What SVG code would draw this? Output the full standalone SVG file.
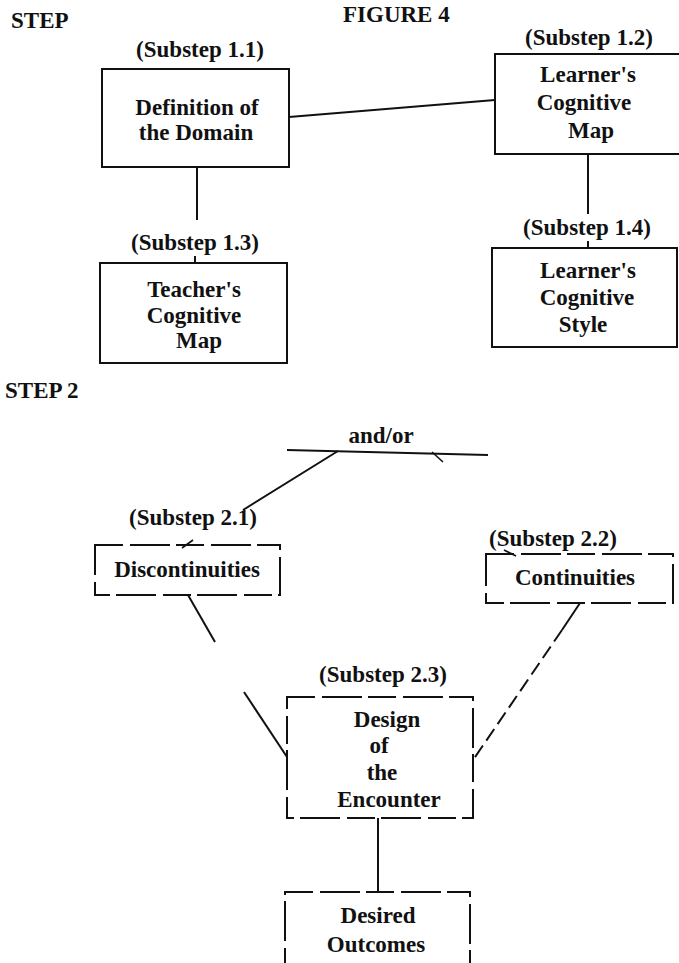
<svg xmlns="http://www.w3.org/2000/svg" width="679" height="963" viewBox="0 0 679 963">
  <style>
    text { font-family: "Liberation Serif", "Times New Roman", serif; font-size: 23px; font-weight: bold; fill: #111; }
    .c { text-anchor: middle; }
    .box { fill: none; stroke: #111; stroke-width: 2; }
    .broken { stroke-dasharray: 28 7 40 6; }
    .ln { fill: none; stroke: #111; stroke-width: 2; }
    .dash { stroke-dasharray: 14 6; }
    .tick { fill: none; stroke: #111; stroke-width: 1.6; }
  </style>
  <rect width="679" height="963" fill="#fff"/>

  <!-- headings -->
  <text x="343" y="22">FIGURE 4</text>
  <text x="11" y="28">STEP</text>
  <text x="5" y="398">STEP 2</text>

  <!-- connectors -->
  <g id="connectors">
    <line class="ln" x1="289" y1="117" x2="495" y2="100"/>
    <line class="ln" x1="197" y1="167" x2="197" y2="220"/>
    <line class="ln" x1="195" y1="256" x2="195" y2="263"/>
    <line class="ln" x1="588" y1="155" x2="588" y2="214"/>
    <line class="ln" x1="588" y1="241" x2="588" y2="248"/>
    <!-- and/or bar with its branches -->
    <line class="ln" x1="287" y1="450" x2="488" y2="455"/>
    <line class="ln" x1="338" y1="451" x2="243" y2="510"/>
    <line class="tick" x1="432" y1="452" x2="443" y2="462"/>
    <line class="tick" x1="193" y1="540" x2="182" y2="548"/>
    <line class="tick" x1="504" y1="550" x2="516" y2="556"/>
    <!-- into the encounter design -->
    <line class="ln" x1="188" y1="595" x2="215" y2="642"/>
    <line class="ln" x1="244" y1="692" x2="287" y2="757"/>
    <line class="ln" x1="580" y1="603" x2="562" y2="630"/>
    <line class="ln dash" x1="562" y1="630" x2="473" y2="760"/>
    <line class="ln" x1="378" y1="818" x2="378" y2="892"/>
  </g>

  <!-- Step 1 -->
  <g id="substep-1-1">
    <text class="c" x="200" y="57">(Substep 1.1)</text>
    <rect class="box" x="102" y="69" width="187" height="98"/>
    <text class="c" x="197" y="115">Definition of</text>
    <text class="c" x="196" y="140">the Domain</text>
  </g>

  <g id="substep-1-2">
    <text x="525" y="45">(Substep 1.2)</text>
    <rect class="box" x="495" y="54" width="190" height="100"/>
    <text class="c" x="588" y="82">Learner's</text>
    <text class="c" x="584" y="110">Cognitive</text>
    <text class="c" x="591" y="138">Map</text>
  </g>

  <g id="substep-1-3">
    <text class="c" x="195" y="250">(Substep 1.3)</text>
    <rect class="box" x="100" y="263" width="187" height="100"/>
    <text class="c" x="194" y="297">Teacher's</text>
    <text class="c" x="194" y="323">Cognitive</text>
    <text class="c" x="199" y="348">Map</text>
  </g>

  <g id="substep-1-4">
    <text class="c" x="587" y="235">(Substep 1.4)</text>
    <rect class="box" x="492" y="248" width="185" height="99"/>
    <text class="c" x="588" y="278">Learner's</text>
    <text class="c" x="587" y="305">Cognitive</text>
    <text class="c" x="583" y="332">Style</text>
  </g>

  <!-- Step 2 -->
  <g id="and-or">
    <text class="c" x="381" y="443">and/or</text>
  </g>

  <g id="substep-2-1">
    <text class="c" x="193" y="525">(Substep 2.1)</text>
    <rect class="box broken" x="95" y="545" width="185" height="50"/>
    <text class="c" x="187" y="577">Discontinuities</text>
  </g>

  <g id="substep-2-2">
    <text class="c" x="553" y="546">(Substep 2.2)</text>
    <rect class="box broken" x="486" y="554" width="187" height="49"/>
    <text class="c" x="575" y="585">Continuities</text>
  </g>

  <g id="substep-2-3">
    <text class="c" x="383" y="682">(Substep 2.3)</text>
    <rect class="box broken" x="287" y="697" width="186" height="121"/>
    <text class="c" x="387" y="727">Design</text>
    <text class="c" x="379" y="753">of</text>
    <text class="c" x="382" y="780">the</text>
    <text class="c" x="389" y="807">Encounter</text>
  </g>

  <g id="desired-outcomes">
    <rect class="box broken" x="285" y="892" width="185" height="100"/>
    <text class="c" x="378" y="923">Desired</text>
    <text class="c" x="376" y="952">Outcomes</text>
  </g>
</svg>
